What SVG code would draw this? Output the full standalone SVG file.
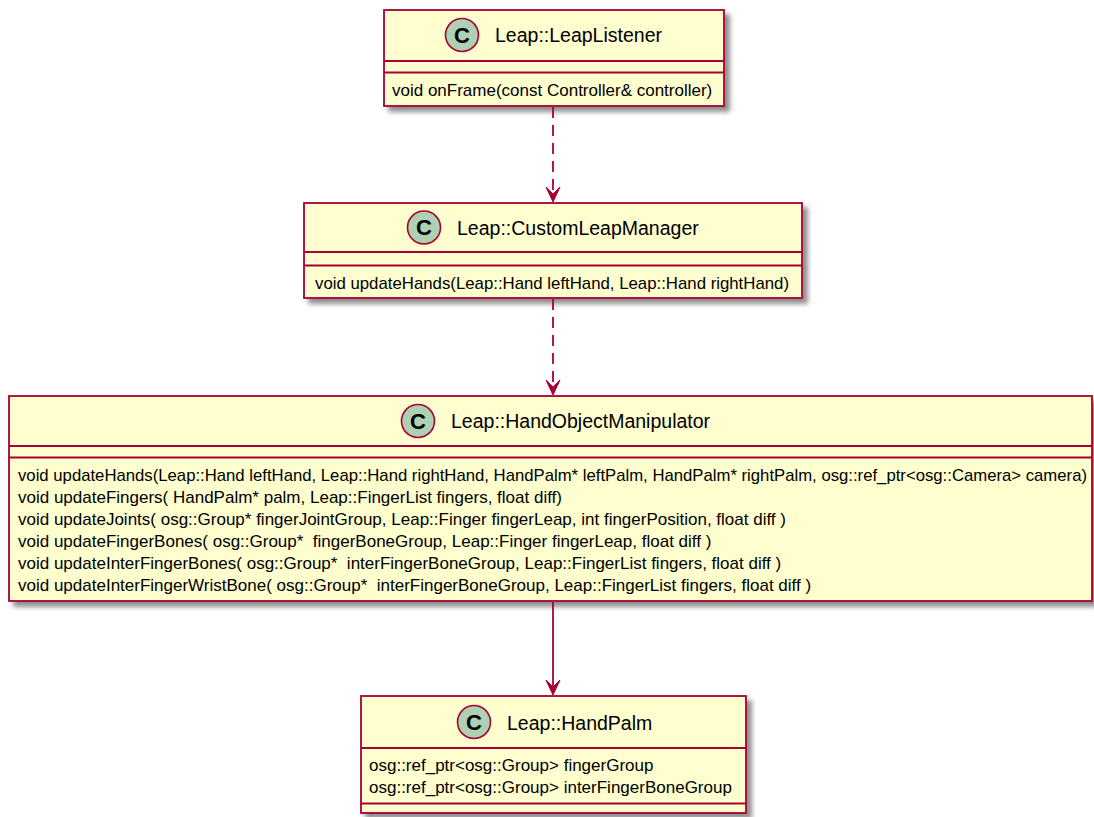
<svg xmlns="http://www.w3.org/2000/svg" width="1094" height="817" viewBox="0 0 1094 817">
  <style>
    .box { fill: #FEFECE; stroke: #A80036; stroke-width: 1.8; }
    .sep { stroke: #A80036; stroke-width: 1.8; fill: none; }
    .badge { fill: #ADD1B2; stroke: #A80036; stroke-width: 1.6; }
    .badge-letter { font-family: "Liberation Sans", Arial, sans-serif; font-size: 22px; font-weight: bold; fill: #000; text-anchor: middle; }
    .name { font-family: "Liberation Sans", Arial, sans-serif; font-size: 19.5px; fill: #000; }
    .member { font-family: "Liberation Sans", Arial, sans-serif; font-size: 17px; fill: #000; }
    .link { stroke: #A80036; stroke-width: 1.8; fill: none; }
    .dashed { stroke-dasharray: 11 7; }
    .head { fill: #A80036; stroke: #A80036; stroke-width: 1; }
  </style>
  <defs>
    <filter id="shadow" x="-5%" y="-10%" width="115%" height="130%">
      <feGaussianBlur in="SourceAlpha" stdDeviation="2.5" result="blur"/>
      <feOffset in="blur" dx="5" dy="5" result="off"/>
      <feComponentTransfer in="off" result="soft">
        <feFuncA type="linear" slope="0.45"/>
      </feComponentTransfer>
      <feMerge>
        <feMergeNode in="soft"/>
        <feMergeNode in="SourceGraphic"/>
      </feMerge>
    </filter>
  </defs>

  <!-- Leap::LeapListener -->
  <g id="LeapListener">
    <rect class="box" x="384" y="10" width="340" height="96" filter="url(#shadow)"/>
    <circle class="badge" cx="462" cy="35" r="16.5"/>
    <text class="badge-letter" x="462" y="42.5">C</text>
    <text class="name" x="495" y="42">Leap::LeapListener</text>
    <line class="sep" x1="384" y1="61" x2="724" y2="61"/>
    <line class="sep" x1="384" y1="72.5" x2="724" y2="72.5"/>
    <text class="member" x="392" y="95.5">void onFrame(const Controller&amp; controller)</text>
  </g>

  <!-- Leap::CustomLeapManager -->
  <g id="CustomLeapManager">
    <rect class="box" x="304" y="203" width="498" height="95" filter="url(#shadow)"/>
    <circle class="badge" cx="424" cy="227.5" r="16.5"/>
    <text class="badge-letter" x="424" y="235">C</text>
    <text class="name" x="457" y="235">Leap::CustomLeapManager</text>
    <line class="sep" x1="304" y1="252" x2="802" y2="252"/>
    <line class="sep" x1="304" y1="265.5" x2="802" y2="265.5"/>
    <text class="member" x="315" y="288.5" textLength="474" lengthAdjust="spacingAndGlyphs">void updateHands(Leap::Hand leftHand, Leap::Hand rightHand)</text>
  </g>

  <!-- Leap::HandObjectManipulator -->
  <g id="HandObjectManipulator">
    <rect class="box" x="9" y="396" width="1083" height="205" filter="url(#shadow)"/>
    <circle class="badge" cx="418" cy="421" r="16.5"/>
    <text class="badge-letter" x="418" y="428.5">C</text>
    <text class="name" x="451" y="428">Leap::HandObjectManipulator</text>
    <line class="sep" x1="9" y1="446" x2="1092" y2="446"/>
    <line class="sep" x1="9" y1="457.5" x2="1092" y2="457.5"/>
    <text class="member" x="18" y="480.5" textLength="1069" lengthAdjust="spacingAndGlyphs">void updateHands(Leap::Hand leftHand, Leap::Hand rightHand, HandPalm* leftPalm, HandPalm* rightPalm, osg::ref_ptr&lt;osg::Camera&gt; camera)</text>
    <text class="member" x="18" y="502.6">void updateFingers( HandPalm* palm, Leap::FingerList fingers, float diff)</text>
    <text class="member" x="18" y="524.7">void updateJoints( osg::Group* fingerJointGroup, Leap::Finger fingerLeap, int fingerPosition, float diff )</text>
    <text class="member" x="18" y="546.8" xml:space="preserve">void updateFingerBones( osg::Group*  fingerBoneGroup, Leap::Finger fingerLeap, float diff )</text>
    <text class="member" x="18" y="568.9" xml:space="preserve">void updateInterFingerBones( osg::Group*  interFingerBoneGroup, Leap::FingerList fingers, float diff )</text>
    <text class="member" x="18" y="591" xml:space="preserve">void updateInterFingerWristBone( osg::Group*  interFingerBoneGroup, Leap::FingerList fingers, float diff )</text>
  </g>

  <!-- Leap::HandPalm -->
  <g id="HandPalm">
    <rect class="box" x="361" y="696" width="385" height="117" filter="url(#shadow)"/>
    <circle class="badge" cx="474" cy="722" r="16.5"/>
    <text class="badge-letter" x="474" y="729.5">C</text>
    <text class="name" x="507" y="729.5">Leap::HandPalm</text>
    <line class="sep" x1="361" y1="748" x2="746" y2="748"/>
    <text class="member" x="369" y="770.5">osg::ref_ptr&lt;osg::Group&gt; fingerGroup</text>
    <text class="member" x="369" y="792.5">osg::ref_ptr&lt;osg::Group&gt; interFingerBoneGroup</text>
    <line class="sep" x1="361" y1="803.5" x2="746" y2="803.5"/>
  </g>

  <!-- connectors -->
  <g id="connectors">
    <line class="link dashed" x1="553" y1="107" x2="553" y2="194"/>
    <polygon class="head" points="553,202 546,187 553,194 560,187"/>
    <line class="link dashed" x1="553" y1="299" x2="553" y2="387"/>
    <polygon class="head" points="553,395 546,380 553,387 560,380"/>
    <line class="link" x1="553" y1="602" x2="553" y2="688"/>
    <polygon class="head" points="553,695 546,680 553,687 560,680"/>
  </g>
</svg>
